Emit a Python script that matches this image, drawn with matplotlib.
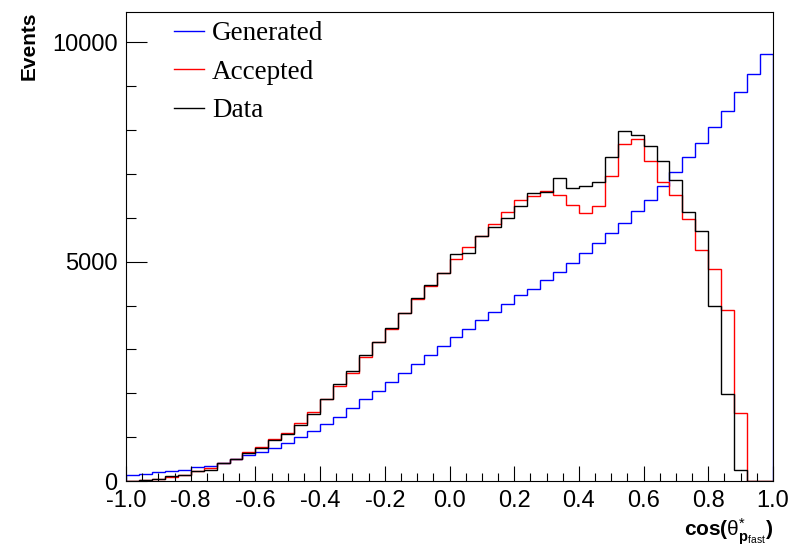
import matplotlib
matplotlib.use("Agg")
import matplotlib.pyplot as plt
import numpy as np
from matplotlib.ticker import MultipleLocator, FormatStrFormatter

# 50 bins in cos(theta*) from -1 to 1
edges = np.linspace(-1.0, 1.0, 51)

generated = [144, 167, 197, 228, 258, 311, 342, 418, 509, 600,
             654, 759, 873, 1010, 1132, 1291, 1466, 1663, 1861, 2058,
             2255, 2460, 2658, 2877, 3082, 3273, 3462, 3668, 3850, 4040,
             4245, 4374, 4579, 4768, 4973, 5200, 5422, 5650, 5877, 6151,
             6401, 6727, 7039, 7374, 7707, 8071, 8444, 8868, 9278, 9727]

accepted = [10, 15, 45, 91, 144, 228, 296, 402, 509, 653,
            767, 957, 1095, 1314, 1579, 1861, 2164, 2460, 2832, 3159,
            3455, 3820, 4146, 4442, 4738, 5057, 5324, 5581, 5848, 6135,
            6401, 6492, 6613, 6522, 6294, 6105, 6272, 6955, 7684, 7784,
            7297, 6811, 6515, 5968, 5262, 4829, 3895, 1542, 0, 0]

data = [5, 30, 45, 106, 129, 228, 258, 402, 509, 630,
        760, 934, 1078, 1268, 1526, 1861, 2203, 2499, 2870, 3159,
        3478, 3834, 4169, 4472, 4731, 5171, 5200, 5581, 5793, 5991,
        6265, 6554, 6591, 6896, 6668, 6720, 6818, 7374, 7973, 7882,
        7631, 7290, 6857, 6128, 5702, 3980, 1975, 250, 0, 0]

plt.rcParams["font.family"] = ["Liberation Sans", "DejaVu Sans"]
plt.rcParams["mathtext.fontset"] = "custom"
plt.rcParams["mathtext.rm"] = "Liberation Sans"
plt.rcParams["mathtext.bf"] = "Liberation Sans:bold"
plt.rcParams["mathtext.it"] = "Liberation Sans:italic"

fig = plt.figure(figsize=(7.9, 5.51), dpi=100)
ax = fig.add_axes([126 / 790, 1 - 481 / 551, 647 / 790, 469 / 551])

ax.stairs(generated, edges, color="blue", lw=1.0, label="Generated")
ax.stairs(accepted, edges, color="red", lw=1.0, label="Accepted")
ax.stairs(data, edges, color="black", lw=1.0, label="Data")

ax.set_xlim(-1.0, 1.0)
ax.set_ylim(0, 10690)

ax.xaxis.set_major_locator(MultipleLocator(0.2))
ax.xaxis.set_minor_locator(MultipleLocator(0.05))
ax.xaxis.set_major_formatter(FormatStrFormatter("%.1f"))
ax.yaxis.set_major_locator(MultipleLocator(5000))
ax.yaxis.set_minor_locator(MultipleLocator(1000))

ax.tick_params(axis="both", which="both", direction="in", top=False, right=False,
               labelsize=17, width=0.8)
ax.tick_params(axis="x", which="major", length=11, pad=6.5)
ax.tick_params(axis="x", which="minor", length=5.5)
ax.tick_params(axis="y", which="major", length=15, pad=6)
ax.tick_params(axis="y", which="minor", length=7.5)
for s in ax.spines.values():
    s.set_linewidth(0.8)

ax.set_ylabel("Events", fontsize=15, fontweight="bold", loc="top", labelpad=10)
ax.set_xlabel(r"$\mathbf{cos(}\mathrm{\theta}^{*}_{\mathbf{p}_{\mathrm{fast}}}\mathbf{)}$",
              fontsize=15, loc="right", labelpad=3)

ax.legend(loc="upper left", bbox_to_anchor=(174 / 790, 1 - 21 / 551),
          bbox_transform=fig.transFigure, frameon=False, borderpad=0,
          borderaxespad=0, handlelength=1.1, handletextpad=0.3,
          labelspacing=0.5, prop={"family": "Liberation Serif", "size": 19.5})

fig.savefig("out.png", dpi=100)
